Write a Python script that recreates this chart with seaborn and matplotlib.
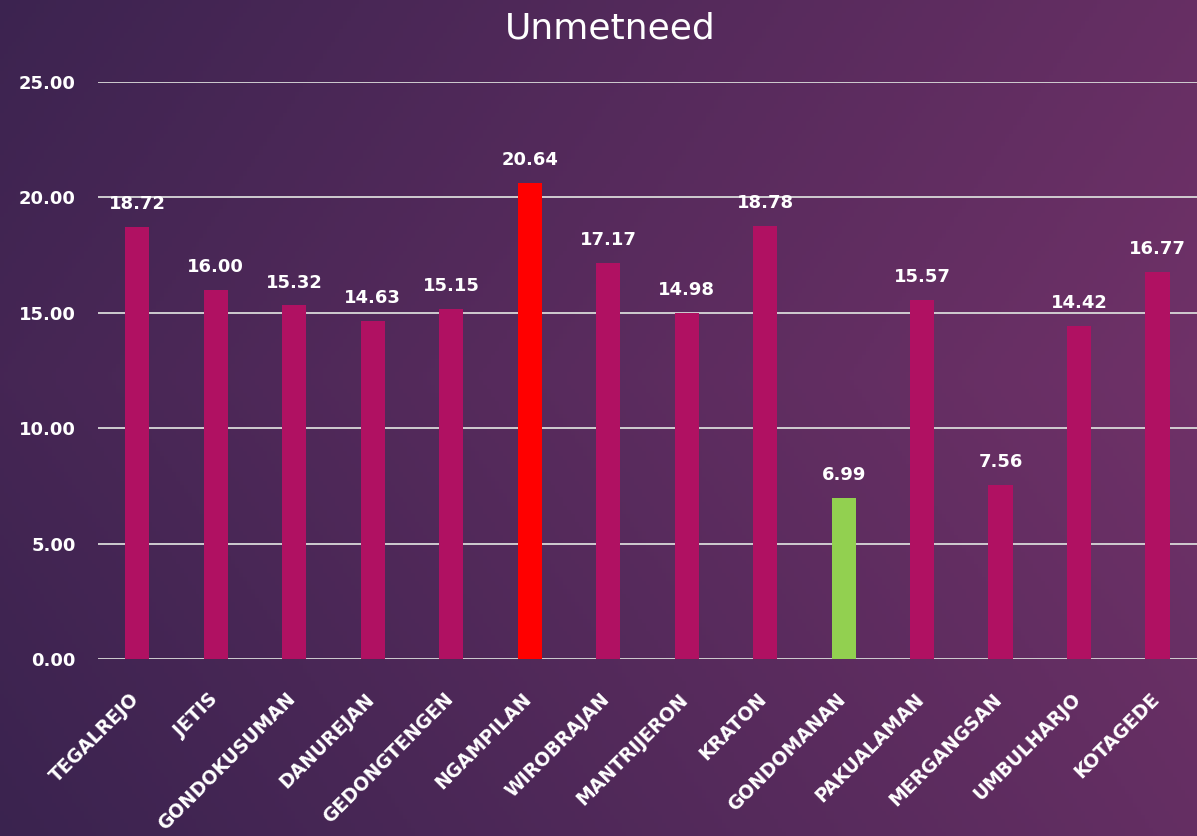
import matplotlib
matplotlib.use("Agg")
import matplotlib.pyplot as plt
import matplotlib.transforms as mtransforms
import seaborn as sns
import pandas as pd
import numpy as np

# --- data ---
kecamatan = ["TEGALREJO", "JETIS", "GONDOKUSUMAN", "DANUREJAN", "GEDONGTENGEN",
             "NGAMPILAN", "WIROBRAJAN", "MANTRIJERON", "KRATON", "GONDOMANAN",
             "PAKUALAMAN", "MERGANGSAN", "UMBULHARJO", "KOTAGEDE"]
unmetneed = [18.72, 16.00, 15.32, 14.63, 15.15, 20.64, 17.17, 14.98, 18.78, 6.99,
             15.57, 7.56, 14.42, 16.77]
highest = "NGAMPILAN"
lowest = "GONDOMANAN"

MAGENTA = "#B01162"
RED = "#FF0000"
GREEN = "#92D050"

sns.set_theme(style="white")
plt.rcParams['font.family'] = ['DejaVu Sans']

df = pd.DataFrame({"kec": kecamatan, "val": unmetneed})
palette = {k: (RED if k == highest else GREEN if k == lowest else MAGENTA) for k in kecamatan}

fig = plt.figure(figsize=(11.97, 8.36), dpi=100)

# background gradient (dark purple left -> lighter plum right)
bg = fig.add_axes([0, 0, 1, 1], zorder=-10)
h, w = 200, 300
yy, xx = np.mgrid[0:1:h*1j, 0:1:w*1j]
t = np.clip(0.75 * xx + 0.25 * (1 - np.abs(yy - 0.45) * 1.4) - 0.05, 0, 1)
c0 = np.array([0x3a, 0x23, 0x4f]) / 255
c1 = np.array([0x72, 0x32, 0x69]) / 255
img = c0[None, None, :] * (1 - t[..., None]) + c1[None, None, :] * t[..., None]
bg.imshow(img, aspect="auto", extent=[0, 1, 0, 1], origin="upper")
bg.axis("off")

ax = fig.add_axes([0.0819, 0.2117, 0.918, 0.6902])
ax.patch.set_alpha(0)
sns.barplot(data=df, x="kec", y="val", hue="kec", palette=palette, legend=False,
            width=0.31, saturation=1, linewidth=0, edgecolor="none", ax=ax, zorder=3)

ax.set_ylim(0, 25)
ax.set_xlim(-0.5, len(kecamatan) - 0.5)
ax.set_yticks(np.arange(0, 26, 5))
ax.set_yticklabels([f"{v:.2f}" for v in np.arange(0, 26, 5)])
ax.grid(axis="y", color="#d9d9d9", linewidth=1.3, zorder=0)
ax.grid(axis="x", visible=False)
for s in ax.spines.values():
    s.set_visible(False)
ax.set_xlabel("")
ax.set_ylabel("")
ax.tick_params(axis="y", colors="white", labelsize=13, length=0, pad=16)
ax.tick_params(axis="x", colors="white", labelsize=13.5, length=0, pad=22)
for lab in ax.get_yticklabels():
    lab.set_fontweight("bold")
ax.set_xticks(range(len(kecamatan)))
ax.set_xticklabels(kecamatan, rotation=45, ha="right", rotation_mode="anchor",
                   fontweight="bold", color="white")
shift = mtransforms.ScaledTranslation(-8 / 100, 0, fig.dpi_scale_trans)
for lab in ax.get_xticklabels():
    lab.set_transform(lab.get_transform() + shift)

for c in ax.containers:
    ax.bar_label(c, fmt="%.2f", padding=10, color="white", fontsize=13, fontweight="bold")

fig.text(0.51, 0.966, "Unmetneed", ha="center", va="center", color="white", fontsize=26)

fig.savefig("out.png", dpi=100)
